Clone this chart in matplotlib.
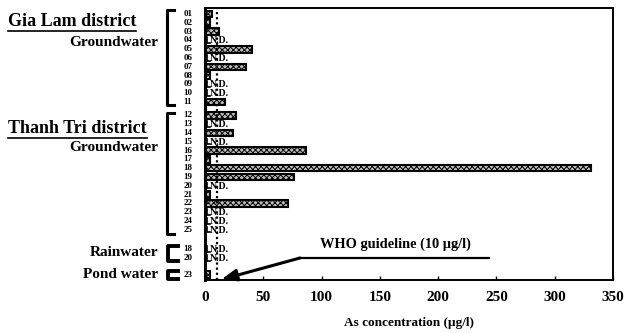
import numpy as np
import matplotlib
matplotlib.use("Agg")
import matplotlib.pyplot as plt
import matplotlib.transforms as mtransforms

# As concentration per sample (ug/l); None = N.D. (not detected)
gia_lam_ids = ["01", "02", "03", "04", "05", "06", "07", "08", "09", "10", "11"]
gia_lam_vals = [6, 4, 12, None, 40, None, 35, 4, None, None, 17]

thanh_tri_ids = ["12", "13", "14", "15", "16", "17", "18", "19", "20", "21",
                 "22", "23", "24", "25"]
thanh_tri_vals = [27, None, 24, None, 87, 4, 331, 76, None, 4, 71, None, None, None]

rain_ids = ["18", "20"]
rain_vals = [None, None]

pond_ids = ["23"]
pond_vals = [4]

who_limit = 10
x_ticks = [0, 50, 100, 150, 200, 250, 300, 350]

SERIF = ["Liberation Serif", "DejaVu Serif"]
plt.rcParams["font.family"] = SERIF
plt.rcParams["font.weight"] = "bold"
plt.rcParams["hatch.linewidth"] = 0.7

W, H = 625, 333
fig = plt.figure(figsize=(W / 100, H / 100), dpi=100)
ax = fig.add_axes([205 / W, 1 - 280 / H, 408 / W, 272 / H])

# layout: where each group starts (in row units)
groups = [
    (gia_lam_ids, gia_lam_vals, 0.0),
    (thanh_tri_ids, thanh_tri_vals, 11.5),
    (rain_ids, rain_vals, 26.7),
    (pond_ids, pond_vals, 29.6),
]

fx = mtransforms.blended_transform_factory(fig.transFigure, ax.transData)

ids, vals, ys = [], [], []
for g_ids, g_vals, start in groups:
    for i, (sid, v) in enumerate(zip(g_ids, g_vals)):
        ids.append(sid)
        vals.append(v)
        ys.append(start + i)

for sid, v, y in zip(ids, vals, ys):
    if v is None:
        ax.plot([1.5, 1.5, 4], [y - 0.35, y + 0.3, y + 0.3], color="black",
                lw=1.2, clip_on=False)
        ax.text(4.5, y + 0.05, "N.D.", fontsize=7, fontweight="bold",
                ha="left", va="center")
    else:
        ax.barh(y, v, height=0.75, color="#bdbdbd", edgecolor="black",
                linewidth=1.5, hatch="xxxxxx")
    fig.text(188 / W, 0, sid, transform=fx, fontsize=6.5, fontweight="bold",
             ha="center", va="center").set_y(y)

ax.set_ylim(30.2, -0.68)
ax.set_xlim(0, 350)
ax.set_xticks(x_ticks)
ax.set_xticklabels([str(t) for t in x_ticks], fontsize=11, fontweight="bold")
ax.tick_params(axis="x", direction="in", length=3, width=1, pad=8)
ax.set_yticks([])
for side in ["left", "right", "top", "bottom"]:
    ax.spines[side].set_linewidth(1.4)
ax.spines["left"].set_linewidth(2.2)
ax.set_xlabel("As concentration (\u00b5g/l)", fontsize=9.5, fontweight="bold",
              labelpad=9)

# WHO guideline
ax.axvline(who_limit, color="black", linestyle=(0, (1, 1.3)), lw=1.6)
ax.text(163, 26.1, "WHO guideline (10 \u00b5g/l)", fontsize=10.4,
        fontweight="bold", ha="center", va="center")
ax.plot([81, 244], [27.7, 27.7], color="black", lw=1.6, clip_on=False)
ax.annotate("", xy=(14, 30.15), xytext=(81.5, 27.7),
            arrowprops=dict(arrowstyle="-|>,head_length=0.9,head_width=0.35",
                            color="black", lw=2.2, shrinkA=0, shrinkB=0))

# brackets on the left
def bracket(y0, y1, x0=167, x1=174, lw=2.2):
    xs = [x1 / W, x0 / W, x0 / W, x1 / W]
    fig.add_artist(plt.Line2D(xs, [y0, y0, y1, y1], transform=fx,
                              color="black", lw=lw))

bracket(-0.5, 10.3)
bracket(11.2, 25.0)
bracket(26.3, 28.0, x0=168, x1=178, lw=2.8)
bracket(29.2, 30.1, x0=168, x1=178, lw=2.8)

fig.canvas.draw()
renderer = fig.canvas.get_renderer()

def label(x_px, y, s, size, ha="left", underline=False):
    t = fig.text(x_px / W, 0, s, transform=fx, fontsize=size,
                 fontweight="bold", ha=ha, va="center")
    t.set_y(y)
    if underline:
        fig.canvas.draw()
        bb = t.get_window_extent(renderer)
        yline = (bb.y0 - 1) / H
        fig.add_artist(plt.Line2D([bb.x0 / W, bb.x1 / W], [yline, yline],
                                  transform=fig.transFigure, color="black",
                                  lw=1.2))

label(8, 0.9, "Gia Lam district", 13, underline=True)
label(158, 3.2, "Groundwater", 11, ha="right")
label(8, 13.0, "Thanh Tri district", 13, underline=True)
label(158, 15.2, "Groundwater", 11, ha="right")
label(158, 27.1, "Rainwater", 11, ha="right")
label(158, 29.6, "Pond water", 11, ha="right")

fig.savefig("out.png", dpi=100)
